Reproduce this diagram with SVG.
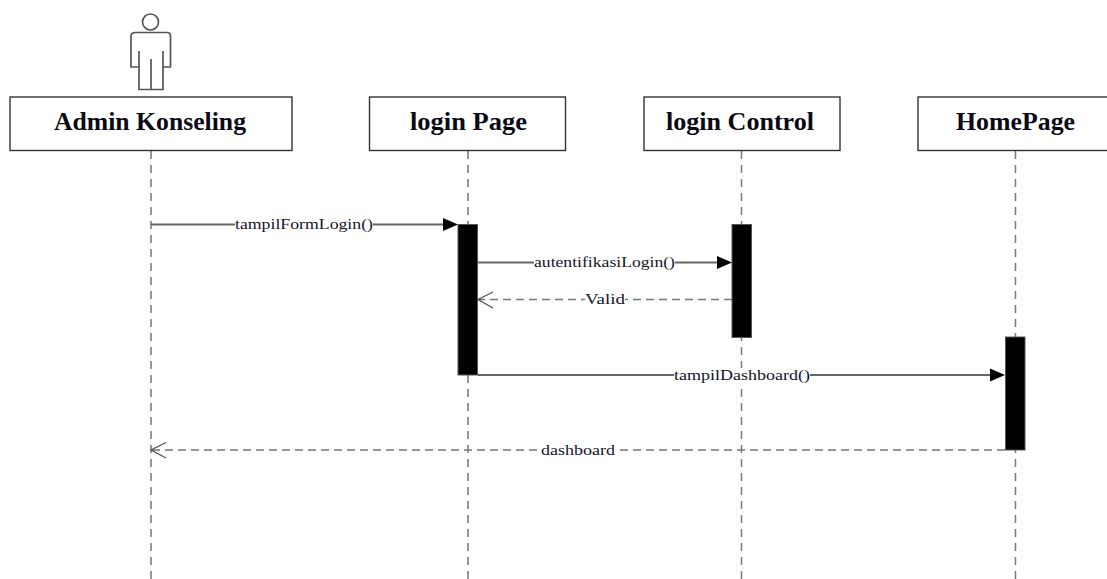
<svg xmlns="http://www.w3.org/2000/svg" width="1107" height="579" viewBox="0 0 1107 579">
<style>
.box{fill:#fff;stroke:#333;stroke-width:1.4}
.title{font:bold 25px "Liberation Serif","Times New Roman",serif;text-anchor:middle;fill:#0a0a14}
.life{stroke:#777;stroke-width:1.5;stroke-dasharray:8 6;fill:none}
.act{fill:#000;stroke:#555;stroke-width:1}
.msg{stroke:#666;stroke-width:2;fill:none}
.ret{stroke:#777;stroke-width:1.5;stroke-dasharray:8 5;fill:none}
.open{stroke:#555;stroke-width:1.3;fill:none}
.lbl{font:15.5px "Liberation Serif","Times New Roman",serif;text-anchor:middle;fill:#14142a}
.bg{fill:#fff}
.actor{fill:#fff;stroke:#555;stroke-width:1.7}
</style>
<rect width="1107" height="579" fill="#fff"/>
<g id="lifelines">
<line class="life" x1="151" y1="151" x2="151" y2="579"/>
<line class="life" x1="468" y1="151" x2="468" y2="579"/>
<line class="life" x1="741.500" y1="151" x2="741.500" y2="579"/>
<line class="life" x1="1015.500" y1="151" x2="1015.500" y2="579"/>
</g>
<g id="actor">
<circle class="actor" cx="150.500" cy="22" r="8"/>
<path class="actor" d="M136 32.500H167Q170.500 32.500 170.500 36V67H163V89.500H139V67H131V36Q131 32.500 136 32.500Z"/>
<path class="actor" d="M139 51V67M163 51V67M151 59V89.500"/>
</g>
<g id="node-admin"><rect class="box" x="10" y="97" width="282" height="53.500"/><text class="title" x="150" y="130" textLength="192" lengthAdjust="spacingAndGlyphs">Admin Konseling</text></g>
<g id="node-loginpage"><rect class="box" x="369.500" y="97" width="196" height="53.500"/><text class="title" x="468.500" y="130" textLength="117" lengthAdjust="spacingAndGlyphs">login Page</text></g>
<g id="node-logincontrol"><rect class="box" x="644" y="97" width="196" height="53.500"/><text class="title" x="740" y="130" textLength="148" lengthAdjust="spacingAndGlyphs">login Control</text></g>
<g id="node-homepage"><rect class="box" x="918" y="97" width="196" height="53.500"/><text class="title" x="1015.500" y="130" textLength="119" lengthAdjust="spacingAndGlyphs">HomePage</text></g>
<g id="activations">
<rect class="act" x="458" y="224.500" width="19.500" height="150.500"/>
<rect class="act" x="732" y="224.500" width="19.500" height="113"/>
<rect class="act" x="1005.500" y="337" width="19.500" height="113"/>
</g>
<g id="connectors">
<line class="msg" x1="151" y1="224.500" x2="445" y2="224.500"/>
<path d="M443 218V231L458 224.500Z" fill="#000"/>
<rect class="bg" x="235" y="217" width="138" height="15"/>
<text class="lbl" x="304" y="229" textLength="138" lengthAdjust="spacingAndGlyphs">tampilFormLogin()</text>
<line class="msg" x1="478" y1="262.500" x2="718" y2="262.500"/>
<path d="M717 256V269L732 262.500Z" fill="#000"/>
<rect class="bg" x="534" y="255" width="141" height="15"/>
<text class="lbl" x="604.500" y="267" textLength="141" lengthAdjust="spacingAndGlyphs">autentifikasiLogin()</text>
<line class="ret" x1="732" y1="299.500" x2="478" y2="299.500"/>
<path class="open" d="M493 292L478 299.500L493 308"/>
<rect class="bg" x="585" y="292" width="40" height="15"/>
<text class="lbl" x="605" y="304" textLength="40" lengthAdjust="spacingAndGlyphs">Valid</text>
<line class="msg" x1="478" y1="375" x2="992" y2="375"/>
<path d="M990 368.500V381.500L1005 375Z" fill="#000"/>
<rect class="bg" x="674" y="368" width="136" height="15"/>
<text class="lbl" x="742" y="380" textLength="136" lengthAdjust="spacingAndGlyphs">tampilDashboard()</text>
<line class="ret" x1="1005" y1="450" x2="151" y2="450"/>
<path class="open" d="M166 442.500L151 450L166 458"/>
<rect class="bg" x="541" y="443" width="74" height="15"/>
<text class="lbl" x="578" y="455" textLength="74" lengthAdjust="spacingAndGlyphs">dashboard</text>
</g>
</svg>
